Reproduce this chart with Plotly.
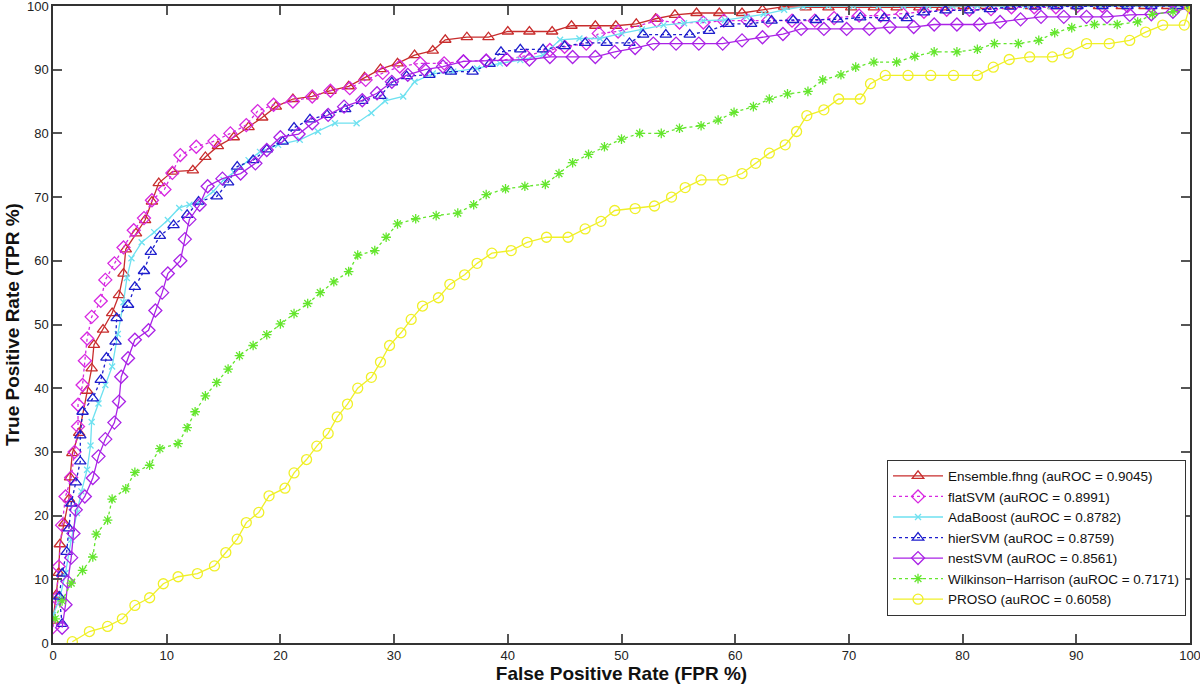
import plotly.graph_objects as go

# ---- data (FPR %, TPR %) ----
ens_x = [0, 0.3, 0.5, 0.6, 1.0, 1.4, 1.5, 1.7, 2.3, 3.0, 3.4, 3.6, 4.4, 5.2, 5.8, 6.2, 6.4, 7.3, 8.1, 8.7, 9.3, 10.5, 12.3,
         13.4, 14.5, 15.9, 17.2, 18.4, 19.6, 21.1, 22.8, 24.4, 26.0, 27.4, 28.8, 30.3, 31.8, 33.4, 34.5, 36.4, 38.3,
         40.0, 41.9, 43.9, 45.6, 47.7, 49.5, 51.3, 53.0, 54.7, 56.6, 58.6, 60.6, 62.4, 64.3, 66.2, 68.2, 70.2, 72.2,
         74.2, 76.2, 78.2, 80.1, 82.0, 84.0, 86.0, 88.0, 90.0, 92.0, 94.0, 96.0, 98.0, 100]
ens_y = [3.5, 7.6, 11.0, 15.5, 18.8, 22.6, 26.0, 29.8, 33.0, 39.6, 43.1, 46.8, 49.2, 51.8, 54.6, 58.0, 61.8, 64.3, 66.4,
         69.3, 72.2, 74.0, 74.2, 76.3, 78.0, 79.4, 81.0, 82.5, 84.2, 85.4, 85.8, 86.7, 87.4, 88.8, 90.1, 91.0, 92.3,
         93.0, 94.7, 95.1, 95.1, 96.0, 96.0, 96.0, 96.9, 96.9, 96.9, 97.2, 98.0, 98.6, 98.9, 98.9, 98.9, 99.4, 99.9,
         99.8, 99.8, 99.8, 99.8, 99.8, 99.8, 99.8, 100, 100, 100, 100, 100, 100, 100, 100, 100, 100, 100]

flat_x = [0, 0.3, 0.5, 0.8, 1.1, 1.6, 1.9, 2.2, 2.2, 2.6, 2.8, 3.0, 3.4, 4.2, 4.6, 5.4, 6.2, 7.1, 8.0, 8.7, 9.8, 10.5,
          11.2, 12.6, 14.2, 15.6, 17.0, 18.0, 19.4, 21.1, 22.8, 24.4, 26.1, 27.5, 29.0, 30.5, 32.3, 34.4, 36.1, 38.1,
          39.9, 41.6, 43.7, 45.0, 46.9, 48.0, 49.7, 53.1, 55.1, 57.2, 59.0, 61.1, 62.9, 65.0, 67.0, 68.7, 70.9, 72.8,
          74.7, 76.6, 78.6, 80.6, 82.5, 84.3, 86.3, 88.2, 90.1, 92.3, 94.5, 96.6, 98.9, 100]
flat_y = [2.5, 7.0, 12.0, 18.5, 23.0, 26.0, 30.0, 34.0, 37.4, 40.5, 44.3, 47.8, 51.2, 53.7, 57.0, 59.6, 62.1, 64.8,
          66.7, 69.5, 71.2, 73.8, 76.6, 77.9, 78.8, 80.0, 81.3, 83.5, 84.5, 85.0, 85.8, 86.7, 87.1, 88.4, 89.5, 90.5,
          91.0, 91.0, 91.3, 91.4, 91.6, 92.2, 93.1, 93.6, 94.1, 95.7, 96.0, 97.7, 97.4, 97.4, 97.7, 97.7, 97.7, 97.7,
          97.7, 98.1, 98.5, 98.5, 98.8, 99.1, 99.4, 99.4, 99.5, 99.8, 99.8, 99.8, 100, 100, 100, 100, 100, 100]

ada_x = [0, 0.6, 1.1, 1.6, 2.1, 2.5, 3.0, 3.3, 3.4, 4.0, 4.6, 5.2, 5.7, 6.2, 6.5, 6.9, 7.8, 8.9, 10.1, 11.1, 12.0,
         12.9, 14.1, 15.0, 15.9, 17.2, 18.2, 19.8, 21.7, 23.3, 24.8, 26.7, 28.0, 29.2, 30.8, 31.8, 33.4, 35.2, 37.3,
         39.3, 41.1, 43.1, 44.6, 46.3, 48.1, 50.0, 51.8, 53.7, 55.5, 57.2, 59.1, 61.0, 62.5, 64.3, 66.0, 68.2, 70.4,
         72.6, 74.8, 77.0, 79.1, 81.3, 83.5, 85.6, 87.8, 90.0, 92.1, 94.3, 96.5, 98.6, 100]
ada_y = [4.4, 7.0, 11.0, 16.2, 20.4, 23.8, 27.2, 31.0, 34.7, 37.6, 40.5, 43.4, 48.5, 53.5, 57.3, 60.4, 62.9, 64.5,
         66.4, 68.3, 68.8, 69.2, 70.9, 72.7, 73.9, 75.8, 77.1, 78.2, 79.0, 80.3, 81.6, 81.6, 83.2, 85.1, 85.8, 88.1,
         89.4, 89.7, 90.2, 91.0, 91.5, 92.3, 94.7, 94.9, 94.9, 95.7, 96.3, 97.0, 97.3, 97.7, 97.8, 98.3, 98.7, 99.4,
         99.9, 100, 100, 100, 100, 100, 100, 100, 100, 100, 100, 100, 100, 100, 100, 100, 100]

hier_x = [0.8, 0.55, 0.8, 1.2, 1.4, 1.6, 2.0, 2.4, 2.4, 2.6, 3.5, 4.2, 4.7, 5.5, 5.6, 6.6, 7.2, 8.0, 8.6, 9.4, 10.6,
          11.8, 12.8, 14.4, 15.4, 16.2, 17.6, 18.8, 20.2, 21.2, 22.6, 24.1, 25.7, 27.2, 28.8, 29.8, 31.1, 33.1, 35.0,
          36.9, 38.4, 39.4, 41.1, 43.1, 45.0, 46.8, 48.7, 50.7, 51.9, 53.9, 56.0, 57.7, 59.4, 61.4, 63.2, 65.1, 67.1,
          69.0, 71.0, 73.1, 75.1, 76.6, 78.5, 80.5, 82.4, 84.2, 86.4, 88.3, 90.1, 92.3, 94.5, 96.6, 98.9, 100]
hier_y = [3.0, 7.3, 10.9, 14.3, 18.0, 21.9, 25.2, 28.5, 32.6, 36.3, 38.4, 41.3, 44.8, 47.3, 51.0, 53.1, 55.9, 58.4,
          61.4, 63.9, 65.6, 67.2, 69.3, 70.1, 72.3, 74.8, 75.8, 77.5, 78.7, 80.9, 82.2, 82.9, 83.8, 85.1, 85.9, 88.0,
          89.0, 89.2, 89.7, 89.7, 90.9, 92.8, 93.2, 93.2, 93.7, 94.2, 94.2, 94.2, 95.5, 95.5, 95.5, 96.1, 97.2, 97.2,
          97.7, 97.8, 97.8, 97.9, 98.2, 98.1, 98.1, 99.0, 99.3, 99.3, 99.5, 99.9, 99.9, 100, 100, 100, 100, 100, 100,
          100]

nest_x = [0.8, 1.1, 1.3, 1.6, 1.8, 2.0, 2.8, 3.5, 4.0, 4.6, 5.4, 5.8, 6.0, 6.6, 7.2, 8.4, 9.0, 9.6, 10.1, 11.2, 11.6,
          12.0, 12.9, 13.6, 14.9, 16.5, 17.8, 18.8, 20.0, 21.6, 22.8, 24.2, 25.6, 27.2, 28.5, 29.8, 31.2, 32.7, 34.3,
          36.1, 38.1, 39.9, 41.9, 43.7, 45.7, 47.7, 49.4, 51.2, 52.8, 54.8, 56.8, 58.9, 60.6, 62.4, 64.2, 65.8, 67.8,
          69.8, 71.8, 73.6, 75.7, 77.5, 79.5, 81.5, 83.3, 85.1, 86.9, 88.9, 90.9, 92.7, 94.7, 96.6, 98.5, 100]
nest_y = [2.4, 6.0, 9.6, 13.4, 17.2, 20.9, 23.0, 25.9, 29.3, 32.0, 34.6, 37.9, 41.8, 44.7, 47.6, 49.1, 52.2, 55.0,
          58.0, 60.0, 63.4, 66.5, 68.8, 71.7, 72.9, 73.7, 75.3, 77.4, 79.4, 79.9, 81.6, 82.9, 84.2, 85.2, 86.3, 88.1,
          89.2, 90.0, 90.5, 91.3, 91.4, 91.6, 91.6, 92.0, 92.0, 92.0, 92.8, 93.4, 94.1, 94.1, 94.1, 94.1, 94.6, 95.1,
          95.6, 96.4, 96.4, 96.4, 96.4, 96.7, 96.7, 97.1, 97.1, 97.1, 97.5, 97.9, 98.3, 98.3, 98.3, 98.3, 98.6, 98.7,
          99.1, 99.8]

wh_x = [0.2, 0.8, 1.6, 2.6, 3.5, 3.8, 4.8, 5.2, 6.4, 7.2, 8.5, 9.4, 11.0, 11.8, 12.5, 13.4, 14.4, 15.4, 16.4, 17.6,
        18.8, 20.0, 21.2, 22.4, 23.5, 24.7, 26.0, 26.8, 28.3, 29.3, 30.3, 31.9, 33.7, 35.6, 37.0, 38.1, 39.8, 41.5,
        43.3, 44.5, 45.7, 47.1, 48.5, 50.0, 51.6, 53.5, 55.1, 57.0, 58.5, 59.9, 61.6, 63.0, 64.6, 66.4, 67.7, 69.3,
        70.6, 72.2, 74.2, 75.8, 77.5, 79.5, 81.3, 82.8, 84.9, 86.7, 88.1, 89.6, 91.6, 93.6, 95.4, 96.7, 98.5, 100]
wh_y = [3.8, 6.6, 9.4, 11.4, 13.5, 17.1, 19.3, 22.6, 24.2, 26.8, 27.9, 30.5, 31.3, 33.8, 36.3, 38.8, 40.9, 43.0,
        45.1, 46.7, 48.4, 50.1, 51.7, 53.3, 55.0, 56.7, 58.3, 60.9, 61.6, 63.7, 65.8, 66.6, 67.1, 67.5, 68.8, 70.4,
        71.3, 71.7, 72.0, 73.7, 75.4, 76.7, 77.9, 79.1, 80.0, 80.0, 80.8, 81.2, 82.1, 83.3, 84.2, 85.4, 86.2, 86.6,
        88.4, 89.2, 90.4, 91.2, 91.2, 92.1, 92.8, 92.8, 93.2, 94.1, 94.1, 94.6, 95.8, 96.6, 97.1, 97.1, 97.5, 98.7,
        99.1, 99.8]

pro_x = [1.7, 3.2, 4.8, 6.1, 7.2, 8.5, 9.7, 11.0, 12.7, 14.2, 15.2, 16.2, 17.0, 18.1, 19.0, 20.4, 21.2, 22.3, 23.2,
         24.2, 25.0, 25.9, 26.8, 28.0, 28.8, 29.6, 30.6, 31.5, 32.5, 33.9, 34.9, 36.2, 37.3, 38.6, 40.3, 41.7, 43.4,
         45.3, 46.8, 48.2, 49.4, 51.2, 52.9, 54.4, 55.6, 57.0, 58.9, 60.6, 61.8, 63.0, 64.4, 65.4, 66.3, 67.8, 69.1,
         71.0, 71.9, 73.2, 75.2, 77.2, 79.2, 81.3, 82.7, 84.1, 85.9, 87.9, 89.3, 90.9, 92.9, 94.7, 96.1, 97.6, 99.5,
         100]
pro_y = [0.2, 1.8, 2.6, 3.8, 5.9, 7.1, 9.3, 10.4, 10.9, 12.1, 14.2, 16.3, 18.9, 20.5, 23.1, 24.3, 26.7, 28.8, 30.9,
         32.9, 35.5, 37.5, 40.0, 41.7, 44.1, 46.7, 48.7, 50.8, 52.9, 54.2, 56.3, 57.8, 59.6, 61.2, 61.6, 62.9, 63.7,
         63.7, 65.0, 66.2, 67.9, 68.2, 68.6, 70.0, 71.5, 72.7, 72.7, 73.7, 75.3, 76.9, 78.2, 80.3, 82.8, 83.7, 85.4,
         85.4, 87.8, 89.1, 89.1, 89.1, 89.1, 89.1, 90.4, 91.6, 92.0, 92.0, 92.6, 94.1, 94.1, 94.6, 95.9, 97.0, 97.0,
         100]

tick_vals = list(range(0, 101, 10))
tick_text = [str(v) for v in tick_vals]

series = [
    ("Ensemble.fhng (auROC = 0.9045)", ens_x, ens_y, "rgb(200,45,45)", "solid", "triangle-up-open", 10),
    ("flatSVM (auROC = 0.8991)", flat_x, flat_y, "rgb(215,40,225)", "dot", "diamond-open", 10),
    ("AdaBoost (auROC = 0.8782)", ada_x, ada_y, "rgb(110,225,240)", "solid", "x-thin-open", 6),
    ("hierSVM (auROC = 0.8759)", hier_x, hier_y, "rgb(30,30,205)", "dot", "triangle-up-open", 10),
    ("nestSVM (auROC = 0.8561)", nest_x, nest_y, "rgb(170,35,230)", "solid", "diamond-open", 10),
    ("Wilkinson\u2212Harrison (auROC = 0.7171)", wh_x, wh_y, "rgb(100,230,45)", "dot", "asterisk-open", 8),
    ("PROSO (auROC = 0.6058)", pro_x, pro_y, "rgb(240,240,40)", "solid", "circle-open", 10),
]

fig = go.Figure()
for name, xs, ys, col, dash, sym, sz in series:
    fig.add_trace(go.Scatter(
        x=xs, y=ys, name=name, mode="lines+markers",
        line=dict(color=col, width=1.3, dash=dash),
        marker=dict(symbol=sym, size=sz, color=col, line=dict(color=col, width=1.3)),
    ))

axis_common = dict(
    range=[-0.001, 100.001], tickmode="array", tickvals=tick_vals, ticktext=tick_text,
    ticks="inside", ticklen=9, tickwidth=1.5, tickcolor="#555",
    showline=True, linecolor="#333", linewidth=1.5, mirror="ticks", showgrid=False, zeroline=False,
    automargin=False, ticklabeloverflow="allow",
    tickfont=dict(family="Liberation Sans, Arial", size=13, color="#222"),
)

title_font = dict(family="Liberation Sans, Arial", size=19, color="#111")

fig.update_layout(
    width=1200, height=686,
    margin=dict(l=53, r=10, t=6, b=43, autoexpand=False),
    paper_bgcolor="white", plot_bgcolor="white",
    xaxis=dict(**axis_common,
               title=dict(text="<b>False Positive Rate (FPR %)</b>", standoff=0, font=title_font)),
    yaxis=dict(**axis_common,
               title=dict(text="<b>True Positive Rate (TPR %)</b>", standoff=2, font=title_font)),
    legend=dict(x=0.9965, y=0.043, xanchor="right", yanchor="bottom",
                bgcolor="white", bordercolor="#333", borderwidth=1,
                font=dict(family="Liberation Sans, Arial", size=13.5, color="#111"),
                itemwidth=50, tracegroupgap=0),
    showlegend=True,
)

fig.write_html("out.html", config={"displayModeBar": False},
               post_script="document.body.style.margin='0';document.body.style.padding='0';")
